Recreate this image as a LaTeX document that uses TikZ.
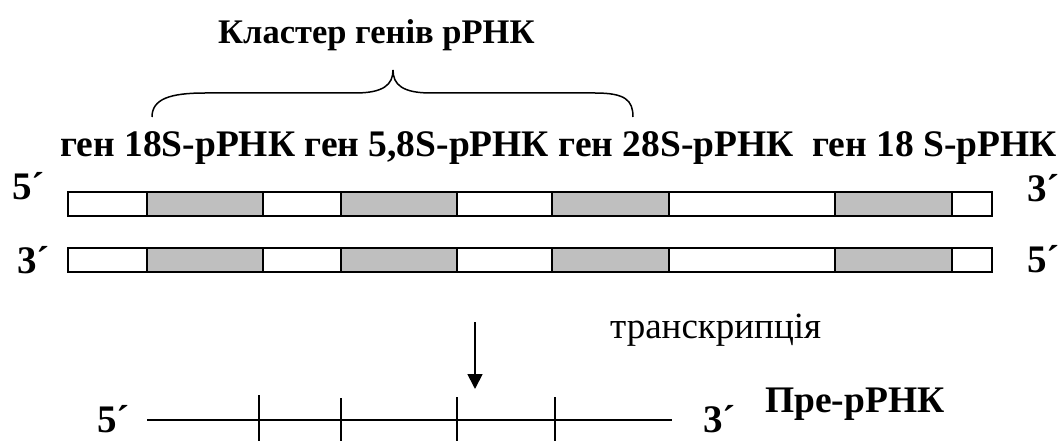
\documentclass[tikz,border=0pt]{standalone}
\usepackage{fontspec}
\setmainfont{Liberation Serif}
\usetikzlibrary{arrows.meta}
\tikzset{
  lbl/.style={inner sep=0pt, anchor=base west, font=\bfseries\fontsize{37.5}{42}\selectfont},
  ttl/.style={inner sep=0pt, anchor=base west, font=\bfseries\fontsize{34.5}{40}\selectfont},
  prm/.style={inner sep=0pt, anchor=base west, font=\bfseries\fontsize{39}{44}\selectfont},
  bar/.style={draw=black, line width=2pt, fill=white},
  gene/.style={draw=black, line width=2pt, fill=gray!50!white},
  line/.style={line width=1.8pt},
}
\begin{document}
\begin{tikzpicture}[x=1pt,y=-1pt]
\useasboundingbox (0,0) rectangle (1058,441);
% title
\node[ttl] (title) at (218,44) {Кластер генів рРНК};
% brace
\draw[line width=1.5pt] (152,117) .. controls (152,99) and (170,93) .. (205,93) -- (355,93) .. controls (383,93) and (393,85) .. (393,70)
  .. controls (393,85) and (403,93) .. (431,93) -- (595,93) .. controls (625,93) and (633,100) .. (633,117);
% gene labels
\node[lbl] (genes) at (60,157) {ген 18S-рРНК ген 5,8S-рРНК ген 28S-рРНК\ \ ген 18 S-рРНК};
% primes
\node[prm] (p5a) at (12,200) {5´};
\node[prm] (p3a) at (17,273) {3´};
\node[prm] (p3b) at (1027,201) {3´};
\node[prm] (p5b) at (1027,272) {5´};
% strands
\foreach \y/\n in {192/top,248/bot}{
  \draw[bar] (68,\y) rectangle (992,\y+24);
  \draw[gene] (147,\y) rectangle (263,\y+24);
  \draw[gene] (341,\y) rectangle (457,\y+24);
  \draw[gene] (552,\y) rectangle (669,\y+24);
  \draw[gene] (835,\y) rectangle (952,\y+24);
}
% transcription arrow
\coordinate (as) at (475,322);
\coordinate (ae) at (475,389);
\draw[line width=1.8pt, -{Triangle[length=15pt,width=15pt]}] (as) -- (ae);
\node[inner sep=0pt, anchor=base west, font=\fontsize{37}{42}\selectfont] (tr) at (610,338) {транскрипція};
% pre-rRNA
\coordinate (ls) at (147,420);
\coordinate (le) at (672,420);
\draw[line] (ls) -- (le);
\foreach \x/\t in {259/395,341/398,457/397,555/397}{
  \draw[line] (\x,\t) -- (\x,441);
}
\node[prm] (p5c) at (97,432) {5´};
\node[prm] (p3c) at (703,432) {3´};
\node[lbl] (pre) at (765,412) {Пре-рРНК};
\end{tikzpicture}
\end{document}
